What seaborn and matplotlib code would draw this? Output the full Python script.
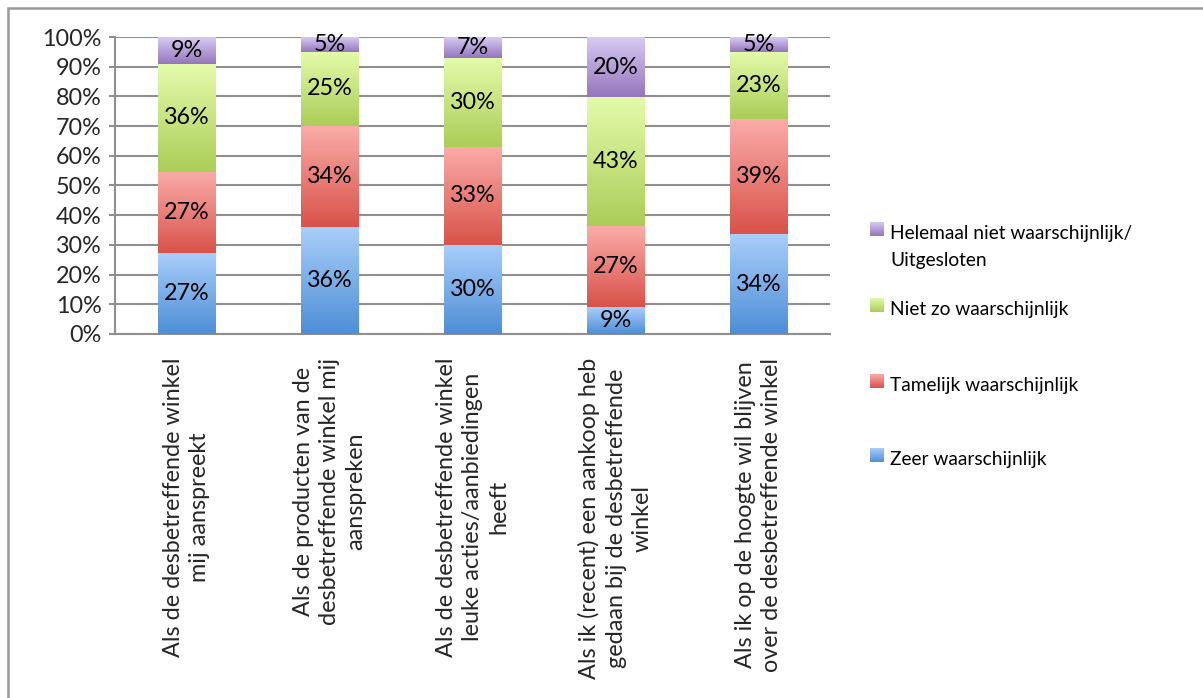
import numpy as np
import pandas as pd
import matplotlib
matplotlib.use("Agg")
import matplotlib.pyplot as plt
from matplotlib.colors import LinearSegmentedColormap
import seaborn as sns

# --- data -------------------------------------------------------------
categories = [
    "Als de desbetreffende winkel\nmij aanspreekt",
    "Als de producten van de\ndesbetreffende winkel mij\naanspreken",
    "Als de desbetreffende winkel\nleuke acties/aanbiedingen\nheeft",
    "Als ik (recent) een aankoop heb\ngedaan bij de desbetreffende\nwinkel",
    "Als ik op de hoogte wil blijven\nover de desbetreffende winkel",
]
series = [
    "Zeer waarschijnlijk",
    "Tamelijk waarschijnlijk",
    "Niet zo waarschijnlijk",
    "Helemaal niet waarschijnlijk/\nUitgesloten",
]
zeer = [27, 36, 30, 9, 34]
tamelijk = [27, 34, 33, 27, 39]
niet_zo = [36, 25, 30, 43, 23]
helemaal_niet = [9, 5, 7, 20, 5]
y_ticks = [0, 10, 20, 30, 40, 50, 60, 70, 80, 90, 100]

# gradient colours per series (top, bottom)
gradients = {
    series[0]: ("#a9cefa", "#4d8ed6"),
    series[1]: ("#fbaca8", "#d8524a"),
    series[2]: ("#e4fbab", "#abcd58"),
    series[3]: ("#d8caf2", "#9476bc"),
}

values = np.array([zeer, tamelijk, niet_zo, helemaal_niet], dtype=float)
totals = values.sum(axis=0)
shares = values / totals * 100.0  # 100% stacked

# --- style ------------------------------------------------------------
sns.set_theme(style="white")
plt.rcParams["font.family"] = ["Lato", "DejaVu Sans"]
FS_AX = 16.8      # axis tick labels and value labels
FS_LEG = 13.8     # legend entries
GRID = "#8f8f8f"

W, H = 1203, 698
fig = plt.figure(figsize=(W / 100, H / 100), dpi=100)
fig.patch.set_facecolor("white")

# full-figure overlay in pixel coordinates for frame and legend
bg = fig.add_axes([0, 0, 1, 1], zorder=0)
bg.set_xlim(0, W)
bg.set_ylim(H, 0)
bg.axis("off")
bg.plot([8, 8, W + 5], [H + 5, 8, 8], color="#999999", lw=1.8,
        solid_joinstyle="miter")

left, right, bottom_px, top_px = 115, 830, 334, 37
ax = fig.add_axes([left / W, 1 - bottom_px / H, (right - left) / W,
                   (bottom_px - top_px) / H], zorder=1)
ax.set_facecolor("none")

df = pd.DataFrame({
    "categorie": np.repeat([categories], len(series), axis=0).ravel(),
    "reeks": np.repeat(series, len(categories)),
    "aandeel": shares.ravel(),
})

base = np.zeros(len(categories))
for k, name in enumerate(series):
    sub = df[df["reeks"] == name]
    sns.barplot(data=sub, x="categorie", y="aandeel", order=categories,
                color=gradients[name][1], width=0.405, errorbar=None,
                bottom=base.copy(), linewidth=0, ax=ax, zorder=3)
    base = base + shares[k]

# replace flat fills by vertical gradients (light top, dark bottom)
grad = np.linspace(0, 1, 256).reshape(-1, 1)
patches = list(ax.patches)
for idx, p in enumerate(patches):
    name = series[idx // len(categories)]
    top_c, bot_c = gradients[name]
    cmap = LinearSegmentedColormap.from_list(name, [bot_c, top_c])
    x0, y0 = p.get_x(), p.get_y()
    w, h = p.get_width(), p.get_height()
    im = ax.imshow(grad, cmap=cmap, extent=(x0, x0 + w, y0, y0 + h),
                   origin="lower", aspect="auto", zorder=3,
                   interpolation="bilinear")
    im.set_clip_path(p)
    p.set_facecolor("none")

# value labels
base = np.zeros(len(categories))
for k in range(len(series)):
    for i in range(len(categories)):
        ax.text(i, base[i] + shares[k, i] / 2, f"{int(values[k, i])}%",
                ha="center", va="center", fontsize=FS_AX, color="black",
                zorder=5)
    base = base + shares[k]

# axes
ax.set_xlim(-0.5, len(categories) - 0.5)
ax.set_ylim(0, 100)
ax.set_yticks(y_ticks)
ax.set_yticklabels([f"{t}%" for t in y_ticks], fontsize=FS_AX)
ax.yaxis.grid(True, color=GRID, lw=1.5, zorder=0)
ax.set_axisbelow(True)
ax.set_xlabel("")
ax.set_ylabel("")
for s in ("top", "right"):
    ax.spines[s].set_visible(False)
for s in ("left", "bottom"):
    ax.spines[s].set_color(GRID)
    ax.spines[s].set_linewidth(1.5)
    ax.spines[s].set_zorder(2)

ax.set_xticks(range(len(categories)))
ax.set_xticklabels(categories, rotation=90, ha="center", va="top",
                   multialignment="center", fontsize=FS_AX, linespacing=1.32)
ax.set_xticks(np.arange(-0.5, len(categories), 1.0), minor=True)
ax.tick_params(axis="x", which="major", length=0, pad=17)
ax.tick_params(axis="x", which="minor", length=5, width=1.5, color=GRID,
               direction="out")
ax.tick_params(axis="y", length=4.5, width=1.5, color=GRID, pad=5,
               direction="out", left=True)

# legend (top entry = last series); markers sit on the first text line
legend_rows = [(series[3], 229), (series[2], 305), (series[1], 381),
               (series[0], 455)]
for name, yc in legend_rows:
    top_c, bot_c = gradients[name]
    cmap = LinearSegmentedColormap.from_list(name + "_leg", [bot_c, top_c])
    bg.imshow(grad, cmap=cmap, extent=(870, 884, yc + 7, yc - 7),
              origin="lower", aspect="auto", interpolation="bilinear")
    bg.text(890, yc - 3.5, name, ha="left", va="top", fontsize=FS_LEG,
            color="black", linespacing=1.68)
bg.set_xlim(0, W)
bg.set_ylim(H, 0)

fig.savefig("out.png", dpi=100)
